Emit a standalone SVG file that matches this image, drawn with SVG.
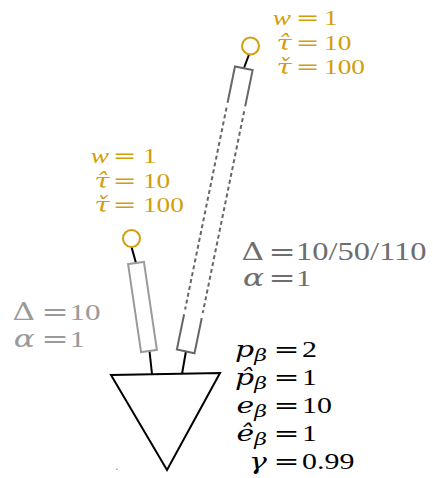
<svg xmlns="http://www.w3.org/2000/svg" width="433" height="478" viewBox="0 0 433 478">
<style>
text{font-family:"Liberation Serif","DejaVu Serif",serif;}
.o{fill:#D19E0C;font-size:21px;}
.g1{fill:#9a9a9a;font-size:24px;}
.g2{fill:#6e6e6e;font-size:24px;}
.k{fill:#000;font-size:23px;}
.i{font-style:italic;}
.dv{font-family:"DejaVu Serif",serif;}
.sub{font-size:17px;font-style:italic;}
.wire{stroke:#000;stroke-width:2;fill:none;}
</style>
<rect width="433" height="478" fill="#fff"/>
<g id="connectors">
<line class="wire" x1="131.5" y1="247" x2="136" y2="263"/>
<line class="wire" x1="149.5" y1="351" x2="152" y2="374"/>
<line class="wire" x1="249" y1="54.5" x2="244" y2="68"/>
<line class="wire" x1="186" y1="351" x2="182" y2="374"/>
</g>
<g id="soma">
<path d="M111 375 L220 373 L167 470 Z" fill="#fff" stroke="#000" stroke-width="2" stroke-linejoin="miter"/>
<rect x="116.5" y="468.5" width="1" height="1.5" fill="#777"/>
</g>
<g id="dendrite-left" transform="translate(136,263) rotate(-8.4)">
<rect x="-8" y="0" width="16" height="89" fill="#fff" stroke="#9a9a9a" stroke-width="2"/>
</g>
<g id="dendrite-right" transform="translate(243.8,68.3) rotate(11.6)" fill="none" stroke="#666" stroke-width="2">
<path d="M-9 37 V0 H9 V37"/>
<path d="M-9 253 V289 H9 V253"/>
<path d="M-9 42 V248 M9 42 V248" stroke-dasharray="4 3"/>
</g>
<g id="synapse-left">
<circle cx="131.5" cy="238.5" r="8.5" fill="#fff" stroke="#D19E0C" stroke-width="2"/>
</g>
<g id="synapse-right">
<circle cx="250.5" cy="46" r="8.5" fill="#fff" stroke="#D19E0C" stroke-width="2"/>
</g>
<g id="label-synapse-right" class="o">
<text transform="translate(298,25) scale(1.3,1)"><tspan x="-5.4" text-anchor="end" class="i">w</tspan><tspan x="20">1</tspan></text>
<text transform="translate(298,50) scale(1.3,1)"><tspan x="-5" text-anchor="end" class="i dv">τ̂</tspan><tspan x="20">10</tspan></text>
<text transform="translate(298,74) scale(1.3,1)"><tspan x="-5" text-anchor="end" class="i dv">τ̌</tspan><tspan x="20">100</tspan></text>
<text class="dv" transform="translate(295.7,25) scale(1.35,1)">=</text>
<text class="dv" transform="translate(295.7,50) scale(1.35,1)">=</text>
<text class="dv" transform="translate(295.7,74) scale(1.35,1)">=</text>
</g>
<g id="label-synapse-left" class="o">
<text transform="translate(115,163) scale(1.3,1)"><tspan x="-4.6" text-anchor="end" class="i">w</tspan><tspan x="21.5">1</tspan></text>
<text transform="translate(115,188) scale(1.3,1)"><tspan x="-4.2" text-anchor="end" class="i dv">τ̂</tspan><tspan x="21.5">10</tspan></text>
<text transform="translate(115,212) scale(1.3,1)"><tspan x="-4.2" text-anchor="end" class="i dv">τ̌</tspan><tspan x="21.5">100</tspan></text>
<text class="dv" transform="translate(112.7,163) scale(1.35,1)">=</text>
<text class="dv" transform="translate(112.7,188) scale(1.35,1)">=</text>
<text class="dv" transform="translate(112.7,212) scale(1.35,1)">=</text>
</g>
<g id="label-dendrite-left" class="g1">
<text transform="translate(43,320) scale(1.3,1)"><tspan x="-6.2" text-anchor="end" class="dv">Δ</tspan><tspan x="20.4">10</tspan></text>
<text transform="translate(43,347) scale(1.3,1)"><tspan x="-6.2" text-anchor="end" class="i dv">α</tspan><tspan x="20.4">1</tspan></text>
<text class="dv" transform="translate(41.4,320) scale(1.35,1)">=</text>
<text class="dv" transform="translate(41.4,347) scale(1.35,1)">=</text>
</g>
<g id="label-dendrite-right" class="g2">
<text transform="translate(270,260) scale(1.3,1)"><tspan x="-4.6" text-anchor="end" class="dv">Δ</tspan><tspan x="20" style="font-size:25px">10/50/110</tspan></text>
<text transform="translate(270,286) scale(1.3,1)"><tspan x="-4.6" text-anchor="end" class="i dv">α</tspan><tspan x="20">1</tspan></text>
<text class="dv" transform="translate(268.4,260) scale(1.35,1)">=</text>
<text class="dv" transform="translate(268.4,286) scale(1.35,1)">=</text>
</g>
<g id="label-soma" class="k">
<text transform="translate(275,357) scale(1.3,1)"><tspan x="-6.2" text-anchor="end" class="dv"><tspan class="i">p</tspan><tspan class="sub" dy="4">β</tspan></tspan><tspan x="20.8" dy="-4">2</tspan></text>
<text transform="translate(275,385) scale(1.3,1)"><tspan x="-6.2" text-anchor="end" class="dv"><tspan class="i">p̂</tspan><tspan class="sub" dy="4">β</tspan></tspan><tspan x="20.8" dy="-4">1</tspan></text>
<text transform="translate(275,413) scale(1.3,1)"><tspan x="-6.2" text-anchor="end" class="dv"><tspan class="i">e</tspan><tspan class="sub" dy="4">β</tspan></tspan><tspan x="20.8" dy="-4">10</tspan></text>
<text transform="translate(275,441) scale(1.3,1)"><tspan x="-6.2" text-anchor="end" class="dv"><tspan class="i">ê</tspan><tspan class="sub" dy="4">β</tspan></tspan><tspan x="20.8" dy="-4">1</tspan></text>
<text transform="translate(275,469) scale(1.3,1)"><tspan x="-6.2" text-anchor="end" class="i dv">γ</tspan><tspan x="20.8">0.99</tspan></text>
<text class="dv" transform="translate(273.5,357) scale(1.35,1)">=</text>
<text class="dv" transform="translate(273.5,385) scale(1.35,1)">=</text>
<text class="dv" transform="translate(273.5,413) scale(1.35,1)">=</text>
<text class="dv" transform="translate(273.5,441) scale(1.35,1)">=</text>
<text class="dv" transform="translate(273.5,469) scale(1.35,1)">=</text>
</g>
</svg>
